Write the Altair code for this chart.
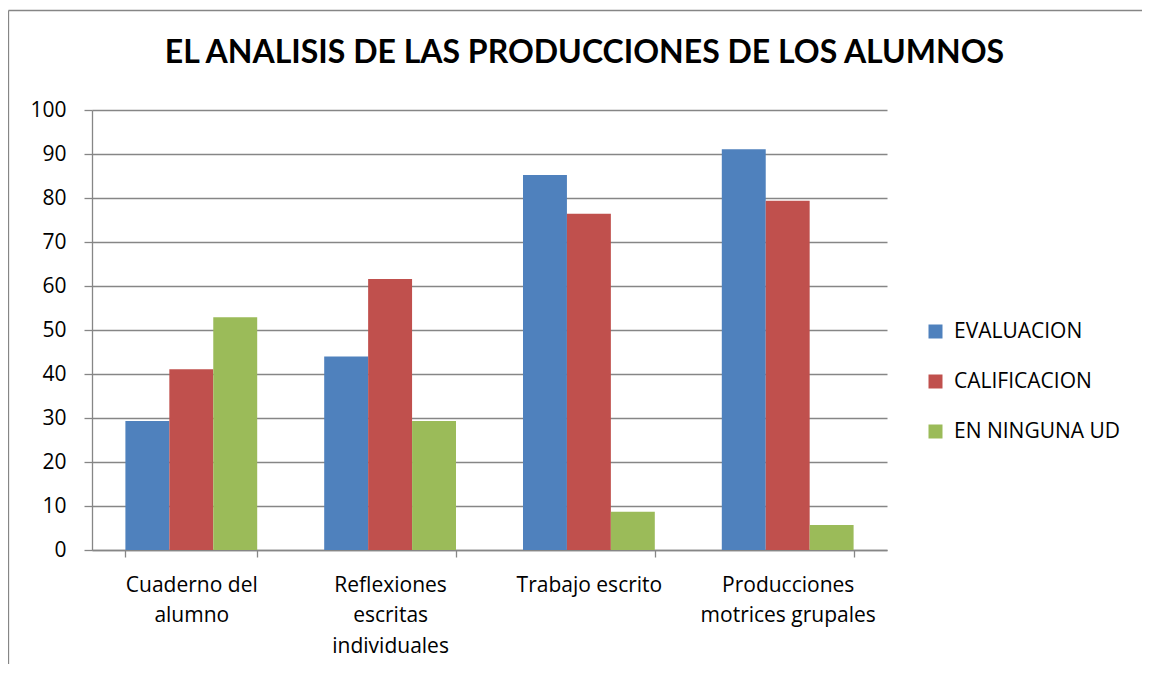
import altair as alt
import pandas as pd

categories = ["Cuaderno del|alumno", "Reflexiones|escritas|individuales", "Trabajo escrito", "Producciones|motrices grupales"]
series = ["EVALUACION", "CALIFICACION", "EN NINGUNA UD"]
evaluacion = [29.3, 44.0, 85.2, 91.1]
calificacion = [41.1, 61.6, 76.4, 79.4]
ninguna = [52.9, 29.3, 8.7, 5.7]
colors = ["#4F81BD", "#C0504D", "#9BBB59"]
title_text = "EL ANALISIS DE LAS PRODUCCIONES DE LOS ALUMNOS"

rows = []
for vals, s in zip([evaluacion, calificacion, ninguna], series):
    for c, v in zip(categories, vals):
        rows.append({"cat": c, "serie": s, "valor": v})
df = pd.DataFrame(rows)

FONT = "Open Sans"
GRID = "#868686"

bars = alt.Chart(df).mark_bar().encode(
    x=alt.X("cat:N", sort=categories,
            scale=alt.Scale(paddingInner=0.337, paddingOuter=0.168),
            axis=alt.Axis(title=None, labelAngle=0, labelExpr="split(datum.label, '|')",
                          labelFontSize=21, labelLineHeight=30.5, labelPadding=17,
                          tickBand="extent", tickSize=7, tickColor=GRID, domainColor=GRID,
                          tickWidth=1.3, domainWidth=1.3, labelColor="#000000",
                          labelBaseline="top", labelFont=FONT)),
    xOffset=alt.XOffset("serie:N", sort=series),
    y=alt.Y("valor:Q", scale=alt.Scale(domain=[0, 100], nice=False),
            axis=alt.Axis(title=None, values=list(range(0, 101, 10)), tickSize=8,
                          tickColor=GRID, domainColor=GRID, gridColor=GRID, gridWidth=1.3,
                          tickWidth=1.3, domainWidth=1.3, labelFont=FONT,
                          labelFontSize=21, labelPadding=18, labelColor="#000000")),
    color=alt.Color("serie:N", sort=series,
                    scale=alt.Scale(domain=series, range=colors),
                    legend=alt.Legend(title=None, orient="none", legendX=833, legendY=211,
                                      symbolType="square", symbolSize=196, symbolStrokeWidth=0,
                                      labelFontSize=21, rowPadding=28, labelColor="#000000",
                                      labelOffset=8, labelLimit=400, labelFont=FONT)),
)

one = pd.DataFrame({"a": [0]})
top_line = alt.Chart(one).mark_rule(color=GRID, strokeWidth=1.3).encode(
    x=alt.value(-83.5), x2=alt.value(1050), y=alt.value(-99.5))
left_line = alt.Chart(one).mark_rule(color=GRID, strokeWidth=1.3).encode(
    x=alt.value(-83.5), y=alt.value(-99.5), y2=alt.value(554))
title = alt.Chart(one).mark_text(
    font="Lato", fontSize=32, fontWeight="bold", color="#000000",
    align="center", baseline="alphabetic"
).encode(x=alt.value(492.5), y=alt.value(-47), text=alt.value(title_text))

chart = alt.layer(top_line, left_line, title, bars).properties(
    width=795, height=440,
    autosize=alt.AutoSizeParams(type="none"),
    padding={"left": 84, "top": 102, "right": 256, "bottom": 115},
).configure(font=FONT).configure_view(stroke=None)

chart.save("out.html", embed_options={"renderer": "svg", "actions": False})
